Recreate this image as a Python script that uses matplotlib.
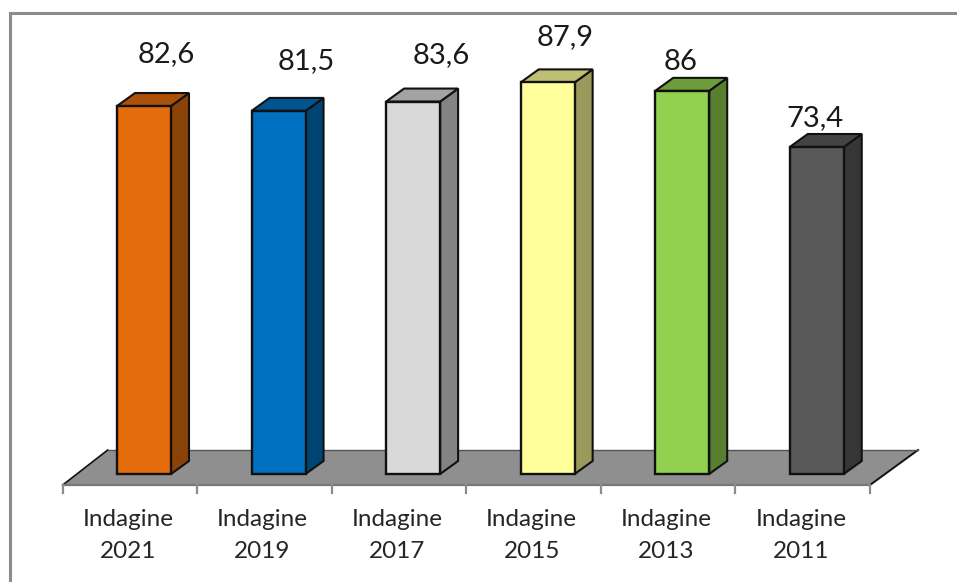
"""Indagine: 3D-look bars drawn by hand on a flat axes"""
import matplotlib
matplotlib.use('Agg')
import matplotlib.pyplot as plt
from matplotlib.patches import Polygon, Rectangle

categories = ['Indagine\n2021', 'Indagine\n2019', 'Indagine\n2017',
              'Indagine\n2015', 'Indagine\n2013', 'Indagine\n2011']
values = [82.6, 81.5, 83.6, 87.9, 86, 73.4]
value_labels = ['82,6', '81,5', '83,6', '87,9', '86', '73,4']

front_colors = ['#E46C0A', '#0070C0', '#D9D9D9', '#FFFF99', '#92D050', '#595959']
top_colors = ['#AC5208', '#005490', '#A3A3A3', '#BFBF73', '#6E9C3C', '#434343']
side_colors = ['#8A4306', '#004474', '#838383', '#9A9A5C', '#587E30', '#363636']

# pixel scale of the chart
W, H = 957, 582
X0, STEP = 144, 134.55
Y0, UNIT = 474, 4.455

# offsets of the value labels from the bar centre / bar top, in pixels
label_dx = [22, 28, 28, 18, -2, -2]
label_dy = [52, 50, 47, 45, 29, 29]

plt.rcParams['font.family'] = ['Lato', 'DejaVu Sans']


def px(dx):
    return dx / STEP


def py(dy):
    return dy / UNIT


fig = plt.figure(figsize=(W / 100, H / 100), dpi=100)
ax = fig.add_axes([0, 0, 1, 1])
ax.set_xlim(-X0 / STEP, (W - X0) / STEP)
ax.set_ylim((Y0 - H) / UNIT, Y0 / UNIT)
ax.axis('off')

edge = '#111111'
bar_w = px(54)
dep_x, dep_y = px(18), py(13)

# cornice del grafico: solo lato sinistro e superiore
frame_x, frame_top = px(9.5 - X0), py(Y0 - 12.5)
ax.plot([frame_x, frame_x], [(Y0 - H) / UNIT, frame_top], color='#8C8C8C', lw=2.2, zorder=0)
ax.plot([frame_x, (W - X0) / STEP], [frame_top, frame_top], color='#8C8C8C', lw=2.2, zorder=0)

# pavimento
n = len(values)
fl, fr = -0.5 - px(14), n - 0.5 - px(14)
floor_y, back_y = py(-11), py(24)
ax.add_patch(Polygon([(fl, floor_y), (fr, floor_y), (fr + px(48), back_y), (fl + px(45), back_y)],
                     closed=True, facecolor='#8F8F8F', edgecolor='none', zorder=1))
ax.plot([fl, fl + px(45)], [floor_y, back_y], color='#111111', lw=1.2, zorder=1)
ax.plot([fr, fr + px(48)], [floor_y, back_y], color='#111111', lw=1.4, zorder=1)
ax.plot([fl + px(45), fr + px(48)], [back_y, back_y], color='#555555', lw=1, zorder=1)
ax.plot([fl, fr], [floor_y, floor_y], color='#777777', lw=1.6, zorder=2)
for i in range(n + 1):
    ax.plot([fl + i, fl + i], [floor_y, py(-19)], color='#8C8C8C', lw=1.6, zorder=2)

for i, v in enumerate(values):
    x1, x2 = i - bar_w / 2, i + bar_w / 2
    ax.add_patch(Polygon([(x2, 0), (x2 + dep_x, dep_y), (x2 + dep_x, v + dep_y), (x2, v)],
                         closed=True, facecolor=side_colors[i], edgecolor=edge, lw=1.5, zorder=3))
    ax.add_patch(Polygon([(x1, v), (x2, v), (x2 + dep_x, v + dep_y), (x1 + dep_x, v + dep_y)],
                         closed=True, facecolor=top_colors[i], edgecolor=edge, lw=1.5, zorder=3))
    ax.add_patch(Rectangle((x1, 0), bar_w, v, facecolor=front_colors[i], edgecolor=edge,
                           lw=1.7, zorder=4))
    ax.text(i + px(label_dx[i]), v + py(label_dy[i]), value_labels[i], ha='center', va='center',
            fontsize=21, color='#1a1a1a', zorder=5)
    ax.text(i - px(16), py(-45), categories[i].split('\n')[0], ha='center', va='center',
            fontsize=17.5, color='#262626', zorder=5)
    ax.text(i - px(16), py(-78), categories[i].split('\n')[1], ha='center', va='center',
            fontsize=17.5, color='#262626', zorder=5)

plt.savefig('out.png', dpi=100)
